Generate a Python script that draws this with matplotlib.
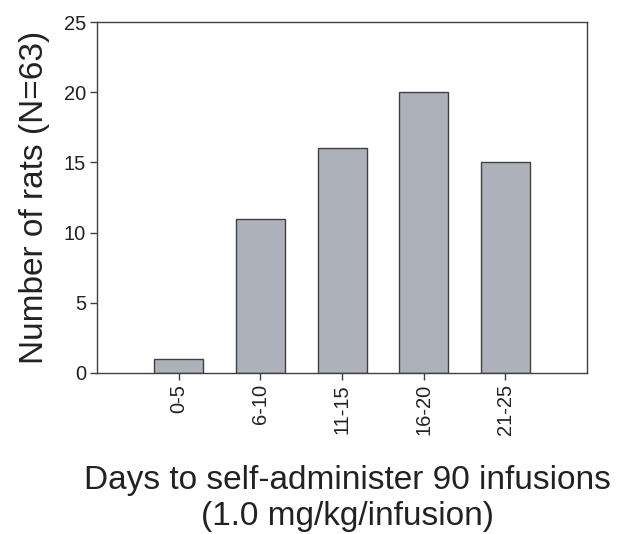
import matplotlib
matplotlib.use('Agg')
import matplotlib.pyplot as plt

# counts of rats per acquisition bin
bins = ['0-5', '6-10', '11-15', '16-20', '21-25']
n_rats = [1, 11, 16, 20, 15]

plt.rcParams['font.family'] = ['Liberation Sans', 'DejaVu Sans']

fig = plt.figure(figsize=(6.2, 5.34), dpi=100)
ax = fig.add_axes([0.1565, 0.3015, 0.7903, 0.6573])

pos = list(range(1, len(bins) + 1))
ax.bar(pos, n_rats, width=0.6, color='#adb2ba', edgecolor='#404040', linewidth=1.0)

ax.set_xlim(0, 6)
ax.set_ylim(0, 25)
ax.set_yticks([0, 5, 10, 15, 20, 25])
ax.set_xticks(pos)
ax.set_xticklabels(bins, rotation=90)

# full box frame, outward ticks
for s in ax.spines.values():
    s.set_color('#404040')
    s.set_linewidth(1.0)
ax.tick_params(direction='out', length=5, width=1.0, color='#404040',
               labelsize=14.5, labelcolor='#222222', pad=3)

ax.set_ylabel('Number of rats (N=63)', fontsize=24, color='#222222', labelpad=10)
ax.set_xlabel('Days to self-administer 90 infusions\n(1.0 mg/kg/infusion)',
              fontsize=24, color='#222222', linespacing=1.2, va='top')
ax.xaxis.set_label_coords(0.512, -0.262)

fig.savefig('out.png', dpi=100)
